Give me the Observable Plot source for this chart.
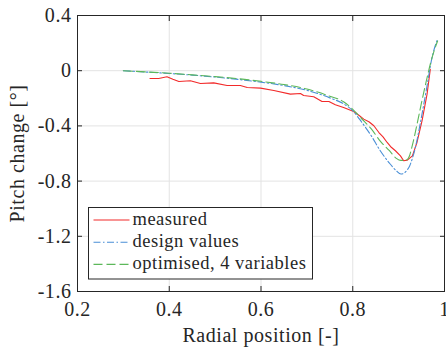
<!DOCTYPE html>
<html><head><meta charset="utf-8">
<script src="https://cdn.jsdelivr.net/npm/d3@7"></script>
<script src="https://cdn.jsdelivr.net/npm/@observablehq/plot@0.6"></script>
<style>
body{margin:0;background:#fff}
svg, svg text{font-family:"Liberation Serif", serif !important; font-size:20px; letter-spacing:0.55px}
svg g.legend text{font-size:18.5px; letter-spacing:0.5px}
</style>
</head><body><div id="chart"></div>
<script>
const xTicks = [0.2, 0.4, 0.6, 0.8, 1];
const yTicks = [0.4, 0, -0.4, -0.8, -1.2, -1.6];
const seriesNames = ["measured", "design values", "optimised, 4 variables"];
const seriesColors = ["#f22a2a", "#4a8fd6", "#5cb85a"];
const seriesDash = [null, "7,2.5,1.5,2.5", "9,4"];

const measuredR = [0.358,0.377,0.395,0.408,0.421,0.446,0.468,0.497,0.526,0.555,0.570,0.599,0.628,0.664,0.686,0.693,0.715,0.733,0.748,0.762,0.780,0.802,0.814,0.824,0.836,0.846,0.857,0.866,0.875,0.884,0.893,0.904,0.911,0.919,0.930,0.940,0.951,0.962,0.969];
const measuredP = [-0.056,-0.056,-0.044,-0.062,-0.078,-0.073,-0.093,-0.088,-0.107,-0.107,-0.122,-0.126,-0.144,-0.170,-0.165,-0.180,-0.189,-0.223,-0.223,-0.247,-0.267,-0.296,-0.325,-0.351,-0.372,-0.399,-0.448,-0.480,-0.520,-0.555,-0.580,-0.617,-0.653,-0.648,-0.617,-0.520,-0.363,-0.170,0.010];

const designR = [0.30,0.35,0.40,0.45,0.50,0.55,0.60,0.65,0.70,0.75,0.78,0.80,0.82,0.84,0.86,0.88,0.895,0.905,0.912,0.918,0.924,0.930,0.937,0.945,0.955,0.963,0.970,0.977,0.985];
const designP = [0.000,-0.010,-0.020,-0.032,-0.046,-0.063,-0.083,-0.108,-0.142,-0.197,-0.240,-0.290,-0.375,-0.470,-0.580,-0.670,-0.725,-0.749,-0.742,-0.722,-0.690,-0.635,-0.550,-0.420,-0.240,-0.090,0.050,0.150,0.230];

const optimR = [0.30,0.35,0.40,0.45,0.50,0.55,0.60,0.65,0.70,0.75,0.78,0.80,0.82,0.84,0.86,0.88,0.895,0.905,0.915,0.922,0.930,0.940,0.950,0.960,0.970,0.977,0.985];
const optimP = [0.000,-0.009,-0.018,-0.030,-0.043,-0.058,-0.077,-0.100,-0.133,-0.185,-0.225,-0.280,-0.350,-0.420,-0.510,-0.580,-0.635,-0.650,-0.650,-0.630,-0.540,-0.390,-0.230,-0.080,0.060,0.140,0.215];

const zip = (r, p) => r.map((v, i) => ({r: v, p: p[i]}));
const series = [zip(measuredR, measuredP), zip(designR, designP), zip(optimR, optimP)];
const curves = ["linear", "monotone-x", "monotone-x"];

const fmt = d => String(d);
const W = 446, H = 347, ML = 77, MR = 2, MT = 15, MB = 56;

const chart = Plot.plot({
  width: W, height: H,
  marginLeft: ML, marginRight: MR, marginTop: MT, marginBottom: MB,
  style: {color: "#262626", background: "#fff"},
  x: {domain: [0.2, 1]},
  y: {domain: [-1.6, 0.4]},
  marks: [
    Plot.gridX(xTicks, {stroke: "#e3e3e3", strokeOpacity: 1}),
    Plot.gridY(yTicks, {stroke: "#e3e3e3", strokeOpacity: 1}),
    ...series.map((s, i) => Plot.line(s, {x: "r", y: "p", curve: curves[i], stroke: seriesColors[i], strokeWidth: 1.1, strokeDasharray: seriesDash[i]})),
    Plot.frame({stroke: "#262626", strokeWidth: 1}),
    Plot.axisX(xTicks, {anchor: "bottom", tickSize: -5, tickPadding: 15, tickFormat: fmt, stroke: "#262626",
      label: "Radial position [-]", labelAnchor: "center", labelArrow: "none", labelOffset: 50}),
    Plot.axisX(xTicks, {anchor: "top", tickSize: -5, tickFormat: () => "", stroke: "#262626", label: null}),
    Plot.axisY(yTicks, {anchor: "left", tickSize: -5, tickPadding: 11, tickFormat: fmt, stroke: "#262626",
      label: "Pitch change [°]", labelAnchor: "center", labelArrow: "none", labelOffset: 68}),
    Plot.axisY(yTicks, {anchor: "right", tickSize: -5, tickFormat: () => "", stroke: "#262626", label: null})
  ]
});
document.getElementById("chart").appendChild(chart);

// legend box inside the plot area
const svg = d3.select(chart);
const lg = svg.append("g").attr("class", "legend").attr("text-anchor", "start");
lg.append("rect").attr("x", 88.5).attr("y", 207.5).attr("width", 224).attr("height", 71.5)
  .attr("fill", "#fff").attr("stroke", "#262626").attr("stroke-width", 1);
seriesNames.forEach((name, i) => {
  const yb = 225 + i * 22.2;
  lg.append("line").attr("x1", 93.5).attr("x2", 129.5).attr("y1", yb - 5).attr("y2", yb - 5)
    .attr("stroke", seriesColors[i]).attr("stroke-width", 1.1).attr("stroke-dasharray", seriesDash[i]);
  lg.append("text").attr("x", 132.5).attr("y", yb).attr("text-anchor", "start").attr("fill", "#262626").text(name);
});
</script></body></html>
